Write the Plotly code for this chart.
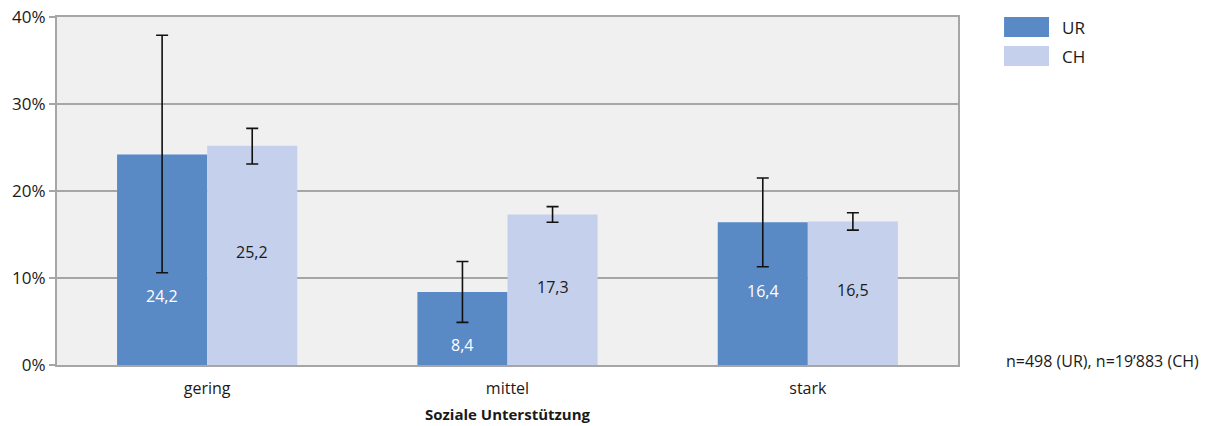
import plotly.graph_objects as go

categories = ["gering", "mittel", "stark"]
ur_values = [24.2, 8.4, 16.4]
ch_values = [25.2, 17.3, 16.5]
ur_err_plus = [13.7, 3.5, 5.1]
ur_err_minus = [13.6, 3.5, 5.1]
ch_err_plus = [2.0, 0.9, 1.0]
ch_err_minus = [2.1, 0.9, 1.0]
y_ticks = [0, 10, 20, 30, 40]
y_tick_labels = ["0%", "10%", "20%", "30%", "40%"]
series_names = ["UR", "CH"]
note = "n=498 (UR), n=19\u2019883 (CH)"
x_title = "Soziale Unterstützung"

UR_COLOR = "#5a8ac6"
CH_COLOR = "#c5d0ec"
FONT = "Open Sans, Segoe UI, DejaVu Sans, sans-serif"
GRID = "#a6a6a6"
TEXT = "#1a1a1a"

xpos = list(range(len(categories)))

fig = go.Figure()
fig.add_trace(go.Bar(
    x=xpos, y=ur_values, name=series_names[0], marker_color=UR_COLOR,
    marker_line_width=0, showlegend=False,
    error_y=dict(type="data", symmetric=False, array=ur_err_plus, arrayminus=ur_err_minus,
                 color="#111111", thickness=1.6, width=6),
))
fig.add_trace(go.Bar(
    x=xpos, y=ch_values, name=series_names[1], marker_color=CH_COLOR,
    marker_line_width=0, showlegend=False,
    error_y=dict(type="data", symmetric=False, array=ch_err_plus, arrayminus=ch_err_minus,
                 color="#111111", thickness=1.6, width=6),
))

bargap = 0.4
half = (1 - bargap) / 4
annotations = []
for i in xpos:
    ur_y = min(ur_values[i] / 2, ur_values[i] - ur_err_minus[i] - 3.0)
    annotations.append(dict(x=i - half, y=ur_y, xref="x", yref="y",
                            text=f"{ur_values[i]:.1f}".replace(".", ","),
                            showarrow=False, font=dict(family=FONT, size=16, color="#ffffff"), yshift=3))
    annotations.append(dict(x=i + half, y=ch_values[i] / 2, xref="x", yref="y",
                            text=f"{ch_values[i]:.1f}".replace(".", ","),
                            showarrow=False, font=dict(family=FONT, size=16, color=TEXT), yshift=3))

# custom legend (swatches + labels, paper coordinates)
legend_colors = [UR_COLOR, CH_COLOR]
legend_rows = [(1.0, 0.9425), (0.9167, 0.859)]
shapes = []
for nm, col, (y1, y0) in zip(series_names, legend_colors, legend_rows):
    shapes.append(dict(type="rect", xref="paper", yref="paper", x0=1.0511, x1=1.101, y0=y0, y1=y1,
                       fillcolor=col, line=dict(width=0)))
    annotations.append(dict(x=1.1132, y=(y0 + y1) / 2, xref="paper", yref="paper", text=nm, showarrow=False,
                            xanchor="left", yanchor="middle", font=dict(family=FONT, size=17, color=TEXT)))

annotations.append(dict(x=1.051, y=0.0115, xref="paper", yref="paper", text=note, showarrow=False,
                        xanchor="left", yanchor="middle", font=dict(family=FONT, size=16, color=TEXT)))

fig.update_layout(
    width=1211, height=426,
    margin=dict(l=57, r=253, t=17, b=61, autoexpand=False),
    paper_bgcolor="white", plot_bgcolor="#f0f0f0",
    barmode="group", bargap=bargap, bargroupgap=0,
    font=dict(family=FONT, size=16, color=TEXT),
    annotations=annotations, shapes=shapes,
    xaxis=dict(
        tickmode="array", tickvals=xpos, ticktext=categories, range=[-0.5, len(categories) - 0.5],
        showgrid=False, showline=True, linecolor=GRID, linewidth=2, mirror=True,
        ticks="outside", ticklen=8, tickcolor="rgba(0,0,0,0)", tickfont=dict(size=16),
        zeroline=False, automargin=False,
        title=dict(text=f"<b>{x_title}</b>", font=dict(size=15), standoff=11),
    ),
    yaxis=dict(
        range=[0, 40], tickmode="array", tickvals=y_ticks, ticktext=y_tick_labels,
        showgrid=True, gridcolor=GRID, gridwidth=1.5, showline=True, linecolor=GRID, linewidth=2,
        mirror=True, ticks="outside", ticklen=6, tickcolor=GRID, tickwidth=1.5,
        tickfont=dict(size=17), zeroline=False, automargin=False,
    ),
)

fig.write_html("out.html", config={"displayModeBar": False},
               post_script="document.body.style.margin='0';")
